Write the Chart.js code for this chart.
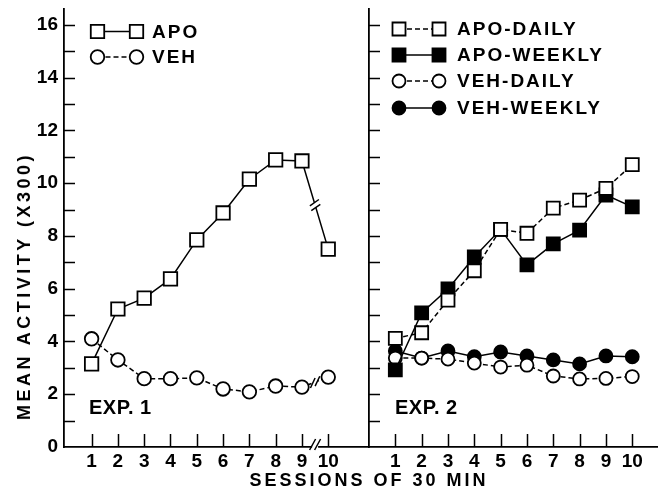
<!DOCTYPE html>
<html><head><meta charset="utf-8">
<script src="https://cdn.jsdelivr.net/npm/chart.js@4.4.1/dist/chart.umd.min.js"></script>
<style>
html,body{margin:0;padding:0;background:#fff;width:662px;height:491px;overflow:hidden}
#c1{position:absolute;left:0;top:0}
#c2{position:absolute;left:367px;top:0}
.t{position:absolute;font-family:"Liberation Sans",Arial,sans-serif;font-weight:bold;color:#000;white-space:nowrap;font-size:18px;line-height:1}
#xt{left:369px;top:480px;letter-spacing:3px;transform:translate(-50%,-50%)}
#yt{left:24px;top:286px;letter-spacing:3.5px;transform:translate(-50%,-50%) rotate(-90deg)}
</style>
</head><body>
<canvas id="c1" width="369" height="491"></canvas>
<canvas id="c2" width="295" height="491"></canvas>
<div class="t" id="xt">SESSIONS OF 30 MIN</div>
<div class="t" id="yt">MEAN ACTIVITY (X300)</div>
<script>
// ---- data ----
const sessions = [1,2,3,4,5,6,7,8,9,10];
const yTicks = [0,1,2,3,4,5,6,7,8,9,10,11,12,13,14,15,16];
const exp1Apo = [3.15,5.23,5.64,6.37,7.85,8.87,10.15,10.88,10.84,7.5];
const exp1Veh = [4.1,3.3,2.59,2.59,2.62,2.2,2.09,2.31,2.27,2.65];
const exp2ApoDaily  = [4.12,4.33,5.57,6.68,8.25,8.1,9.05,9.36,9.8,10.7];
const exp2ApoWeekly = [2.92,5.08,5.99,7.2,8.25,6.9,7.7,8.22,9.55,9.1];
const exp2VehDaily  = [3.37,3.37,3.33,3.18,3.03,3.1,2.69,2.58,2.6,2.67];
const exp2VehWeekly = [3.64,3.37,3.64,3.42,3.6,3.45,3.3,3.15,3.45,3.42];
const labels1 = ['APO','VEH'];
const labels2 = ['APO-DAILY','APO-WEEKLY','VEH-DAILY','VEH-WEEKLY'];
const expLabels = ['EXP. 1','EXP. 2'];

const FONT = '"Liberation Sans", Arial, sans-serif';
const DASH = [5,3];

function marker(ctx, style, x, y, r, fill, stroke, lw){
  ctx.beginPath();
  if(style === 'rect'){ const s = r*Math.SQRT1_2; ctx.rect(x-s, y-s, 2*s, 2*s); }
  else ctx.arc(x, y, r, 0, Math.PI*2);
  ctx.fillStyle = fill; ctx.fill();
  ctx.lineWidth = lw; ctx.strokeStyle = stroke; ctx.stroke();
}

const tickPlugin = {
  id: 'inTicks',
  beforeDatasetsDraw(chart){
    const {ctx, chartArea:a, scales:{x, y}} = chart;
    ctx.save();
    ctx.strokeStyle = '#000'; ctx.lineWidth = 1.5;
    ctx.beginPath();
    y.ticks.forEach(t => {
      if(t.value <= 0) return;
      const py = Math.round(y.getPixelForValue(t.value)) + 0.5;
      ctx.moveTo(a.left, py); ctx.lineTo(a.left + 11, py);
    });
    x.ticks.forEach(t => {
      const px = Math.round(x.getPixelForValue(t.value)) + 0.5;
      ctx.moveTo(px, a.bottom); ctx.lineTo(px, a.bottom - 13);
    });
    ctx.stroke();
    ctx.restore();
  }
};

const decoPlugin = {
  id: 'deco',
  afterDraw(chart, args, opts){
    const ctx = chart.ctx;
    ctx.save();
    // legend
    const lg = opts.legend;
    chart.data.datasets.forEach((ds, i) => {
      const yy = lg.rows[i];
      ctx.beginPath();
      ctx.setLineDash(ds.borderDash || []);
      ctx.lineWidth = ds.borderWidth; ctx.strokeStyle = '#000';
      ctx.moveTo(lg.x1, yy); ctx.lineTo(lg.x2, yy); ctx.stroke();
      ctx.setLineDash([]);
      [lg.x1, lg.x2].forEach(xx => marker(ctx, ds.pointStyle, xx, yy, ds.pointRadius, ds.pointBackgroundColor, '#000', ds.pointBorderWidth));
      ctx.fillStyle = '#000';
      ctx.font = 'bold 19px ' + FONT;
      ctx.letterSpacing = '2px';
      ctx.textBaseline = 'middle'; ctx.textAlign = 'left';
      ctx.fillText(ds.label, lg.tx, yy + 1);
    });
    // experiment label
    ctx.letterSpacing = '0.5px';
    ctx.font = 'bold 20px ' + FONT;
    ctx.textBaseline = 'alphabetic';
    ctx.fillText(opts.exp.text, opts.exp.x, opts.exp.y);
    ctx.letterSpacing = '0px';
    // breaks
    if(opts.breaks){
      const {x} = chart.scales;
      const a = chart.chartArea;
      opts.breaks.series.forEach(b => {
        const meta = chart.getDatasetMeta(b.dataset);
        const p1 = meta.data[b.from], p2 = meta.data[b.from+1];
        const mx = (p1.x + p2.x)/2, my = (p1.y + p2.y)/2;
        const th = Math.atan2(p2.y - p1.y, p2.x - p1.x);
        const ux = Math.cos(th), uy = Math.sin(th);
        ctx.beginPath(); ctx.strokeStyle = '#fff'; ctx.lineWidth = 4;
        ctx.moveTo(mx - ux*2.5, my - uy*2.5); ctx.lineTo(mx + ux*2.5, my + uy*2.5); ctx.stroke();
        ctx.strokeStyle = '#000'; ctx.lineWidth = 1.5;
        const sa = b.angle*Math.PI/180, sx = Math.cos(sa)*5.5, sy = Math.sin(sa)*5.5;
        ctx.beginPath();
        [-2.5, 2.5].forEach(o => {
          const cx = mx + ux*o, cy = my + uy*o;
          ctx.moveTo(cx - sx, cy - sy); ctx.lineTo(cx + sx, cy + sy);
        });
        ctx.stroke();
      });
      const px = x.getPixelForValue(opts.breaks.axisAt);
      ctx.fillStyle = '#fff';
      ctx.fillRect(px - 3, a.bottom - 2, 6, 4);
      ctx.strokeStyle = '#000'; ctx.lineWidth = 1.5;
      ctx.beginPath();
      [-2.5, 2.5].forEach(o => {
        ctx.moveTo(px + o - 3, a.bottom + 3); ctx.lineTo(px + o + 3, a.bottom - 8);
      });
      ctx.stroke();
    }
    ctx.restore();
  }
};

function mkScales(xMin, xMax, showY, yWidth){
  return {
    x: {
      type: 'linear', min: xMin, max: xMax,
      afterBuildTicks: s => { s.ticks = sessions.map(v => ({value: v})); },
      afterFit: s => { s.height = 44; s.paddingLeft = 0; s.paddingRight = 0; },
      grid: {display: false, drawTicks: false},
      border: {display: true, color: '#000', width: 1.8},
      ticks: {color: '#000', padding: 3, font: {family: FONT, size: 19, weight: 'bold'}, callback: v => String(v), autoSkip: false, maxRotation: 0}
    },
    y: {
      type: 'linear', min: 0, max: 16.6,
      afterBuildTicks: s => { s.ticks = yTicks.map(v => ({value: v})); },
      afterFit: s => { s.width = yWidth; s.paddingTop = 0; s.paddingBottom = 0; },
      grid: {display: false, drawTicks: false},
      border: {display: true, color: '#000', width: 1.8},
      ticks: {display: showY, color: '#000', padding: 6, font: {family: FONT, size: 19, weight: 'bold'}, callback: v => (v % 2 === 0 ? String(v) : '')}
    }
  };
}

function ds(label, data, style, filled, dashed, r){
  return {
    label, data: sessions.map((s, i) => ({x: s, y: data[i]})),
    borderColor: '#000', borderWidth: 1.5, borderDash: dashed ? DASH : [],
    pointStyle: style, pointRadius: r, pointHoverRadius: r,
    pointBackgroundColor: filled ? '#000' : '#fff', pointBorderColor: '#000', pointBorderWidth: 1.8,
    tension: 0, fill: false
  };
}

const common = {
  responsive: false, animation: false, devicePixelRatio: 1,
  events: []
};

new Chart(document.getElementById('c1'), {
  type: 'line',
  data: {datasets: [
    ds(labels1[0], exp1Apo, 'rect', false, false, 9.5),
    ds(labels1[1], exp1Veh, 'circle', false, true, 6.8)
  ]},
  options: Object.assign({}, common, {
    layout: {autoPadding: false, padding: {top: 9, right: 0, bottom: 0, left: 0}},
    scales: mkScales(-0.05, 11.55, true, 64),
    plugins: {
      legend: {display: false}, tooltip: {enabled: false},
      deco: {
        legend: {x1: 97.5, x2: 136.5, tx: 152, rows: [31.5, 57]},
        exp: {text: expLabels[0], x: 89, y: 414},
        breaks: {axisAt: 9.5, series: [{dataset: 0, from: 8, angle: -35}, {dataset: 1, from: 8, angle: -65}]}
      }
    }
  }),
  plugins: [tickPlugin, decoPlugin]
});

new Chart(document.getElementById('c2'), {
  type: 'line',
  data: {datasets: [
    ds(labels2[0], exp2ApoDaily, 'rect', false, true, 9.2),
    ds(labels2[1], exp2ApoWeekly, 'rect', true, false, 9.2),
    ds(labels2[2], exp2VehDaily, 'circle', false, true, 6.5),
    ds(labels2[3], exp2VehWeekly, 'circle', true, false, 6.5)
  ]},
  options: Object.assign({}, common, {
    layout: {autoPadding: false, padding: {top: 9, right: 5, bottom: 0, left: 0}},
    scales: mkScales(0, 10.94, false, 2),
    plugins: {
      legend: {display: false}, tooltip: {enabled: false},
      deco: {
        legend: {x1: 399 - 367, x2: 439 - 367, tx: 457 - 367, rows: [29, 55, 81, 108]},
        exp: {text: expLabels[1], x: 395 - 367, y: 414}
      }
    }
  }),
  plugins: [tickPlugin, decoPlugin]
});
</script>
</body></html>
